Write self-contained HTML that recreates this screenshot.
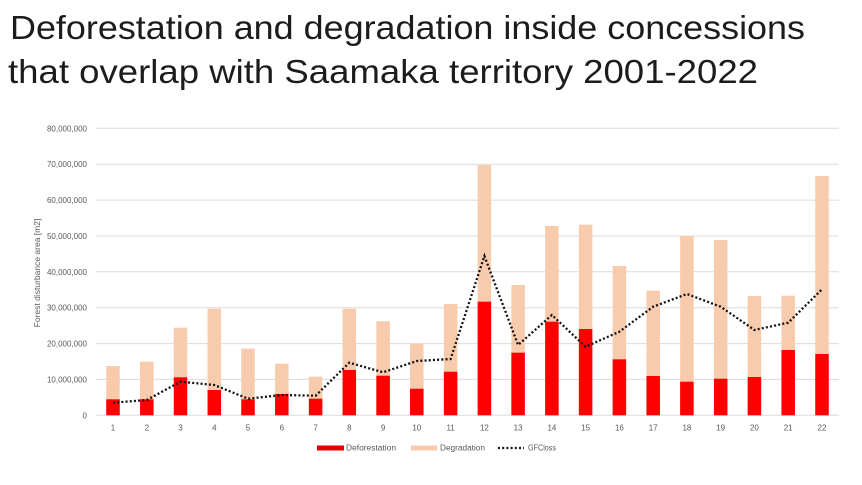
<!DOCTYPE html>
<html><head><meta charset="utf-8"><style>
html,body{margin:0;padding:0;background:#fff;}
svg{display:block;}
text{font-family:"Liberation Sans",sans-serif;}
</style></head><body>
<svg width="862" height="485" viewBox="0 0 862 485" xmlns="http://www.w3.org/2000/svg">
<rect width="862" height="485" fill="#fff"/>
<text x="10" y="39" font-size="33" fill="#1c1c1c" textLength="795" lengthAdjust="spacingAndGlyphs">Deforestation and degradation inside concessions</text>
<text x="8" y="83" font-size="33" fill="#1c1c1c" textLength="750" lengthAdjust="spacingAndGlyphs">that overlap with Saamaka territory 2001-2022</text>

<g stroke="#dcdcdc" stroke-width="1">
<line x1="96" x2="839" y1="128.3" y2="128.3"/>
<line x1="96" x2="839" y1="164.2" y2="164.2"/>
<line x1="96" x2="839" y1="200.1" y2="200.1"/>
<line x1="96" x2="839" y1="236" y2="236"/>
<line x1="96" x2="839" y1="271.8" y2="271.8"/>
<line x1="96" x2="839" y1="307.7" y2="307.7"/>
<line x1="96" x2="839" y1="343.6" y2="343.6"/>
<line x1="96" x2="839" y1="379.4" y2="379.4"/>
<line x1="96" x2="839" y1="415.3" y2="415.3"/>
</g>
<g font-size="8" fill="#595959" text-anchor="end">
<text x="87" y="131.3">80,000,000</text>
<text x="87" y="167.2">70,000,000</text>
<text x="87" y="203.1">60,000,000</text>
<text x="87" y="239">50,000,000</text>
<text x="87" y="274.8">40,000,000</text>
<text x="87" y="310.7">30,000,000</text>
<text x="87" y="346.6">20,000,000</text>
<text x="87" y="382.4">10,000,000</text>
<text x="87" y="418.3">0</text>
</g>
<text transform="translate(40,273) rotate(-90)" font-size="8.5" fill="#595959" text-anchor="middle">Forest disturbance area [m2]</text>

<g fill="#f8cbad">
<rect x="106.25" y="366" width="13.5" height="49.3"/>
<rect x="140.05" y="361.7" width="13.5" height="53.6"/>
<rect x="173.75" y="327.7" width="13.5" height="87.6"/>
<rect x="207.55" y="308.7" width="13.5" height="106.6"/>
<rect x="241.25" y="348.7" width="13.5" height="66.6"/>
<rect x="275.05" y="363.7" width="13.5" height="51.6"/>
<rect x="308.85" y="376.7" width="13.5" height="38.6"/>
<rect x="342.55" y="308.7" width="13.5" height="106.6"/>
<rect x="376.35" y="321.3" width="13.5" height="94"/>
<rect x="410.05" y="343.7" width="13.5" height="71.6"/>
<rect x="443.85" y="304" width="13.5" height="111.3"/>
<rect x="477.65" y="165" width="13.5" height="250.3"/>
<rect x="511.35" y="285" width="13.5" height="130.3"/>
<rect x="545.15" y="226" width="13.5" height="189.3"/>
<rect x="578.85" y="224.7" width="13.5" height="190.6"/>
<rect x="612.65" y="266" width="13.5" height="149.3"/>
<rect x="646.45" y="290.7" width="13.5" height="124.6"/>
<rect x="680.15" y="236" width="13.5" height="179.3"/>
<rect x="713.95" y="240" width="13.5" height="175.3"/>
<rect x="747.65" y="296" width="13.5" height="119.3"/>
<rect x="781.45" y="295.7" width="13.5" height="119.6"/>
<rect x="815.25" y="176" width="13.5" height="239.3"/>
</g>
<g fill="#ff0000">
<rect x="106.25" y="399.3" width="13.5" height="16"/>
<rect x="140.05" y="399.3" width="13.5" height="16"/>
<rect x="173.75" y="377.3" width="13.5" height="38"/>
<rect x="207.55" y="390" width="13.5" height="25.3"/>
<rect x="241.25" y="399.3" width="13.5" height="16"/>
<rect x="275.05" y="394" width="13.5" height="21.3"/>
<rect x="308.85" y="398.7" width="13.5" height="16.6"/>
<rect x="342.55" y="370" width="13.5" height="45.3"/>
<rect x="376.35" y="375.7" width="13.5" height="39.6"/>
<rect x="410.05" y="388.7" width="13.5" height="26.6"/>
<rect x="443.85" y="371.7" width="13.5" height="43.6"/>
<rect x="477.65" y="301.7" width="13.5" height="113.6"/>
<rect x="511.35" y="352.7" width="13.5" height="62.6"/>
<rect x="545.15" y="321.7" width="13.5" height="93.6"/>
<rect x="578.85" y="329" width="13.5" height="86.3"/>
<rect x="612.65" y="359.3" width="13.5" height="56"/>
<rect x="646.45" y="376" width="13.5" height="39.3"/>
<rect x="680.15" y="381.7" width="13.5" height="33.6"/>
<rect x="713.95" y="378.7" width="13.5" height="36.6"/>
<rect x="747.65" y="377" width="13.5" height="38.3"/>
<rect x="781.45" y="350" width="13.5" height="65.3"/>
<rect x="815.25" y="354" width="13.5" height="61.3"/>
</g>

<polyline fill="none" stroke="#111" stroke-width="2.3" stroke-dasharray="2 2.2"
points="113,402.7 146.8,400 180.5,381.7 214.3,385 248,398.7 281.8,395 315.6,395.7 349.3,362.7 383.1,372.3 416.8,361 450.6,359 484.4,256 518.1,345 551.9,315 585.6,346.7 619.4,331.7 653.2,306.7 686.9,294 720.7,306.7 754.4,330 788.2,322.7 822,289.3"/>

<g font-size="8" fill="#595959" text-anchor="middle">
<text x="113" y="430.5">1</text>
<text x="146.8" y="430.5">2</text>
<text x="180.5" y="430.5">3</text>
<text x="214.3" y="430.5">4</text>
<text x="248" y="430.5">5</text>
<text x="281.8" y="430.5">6</text>
<text x="315.6" y="430.5">7</text>
<text x="349.3" y="430.5">8</text>
<text x="383.1" y="430.5">9</text>
<text x="416.8" y="430.5">10</text>
<text x="450.6" y="430.5">11</text>
<text x="484.4" y="430.5">12</text>
<text x="518.1" y="430.5">13</text>
<text x="551.9" y="430.5">14</text>
<text x="585.6" y="430.5">15</text>
<text x="619.4" y="430.5">16</text>
<text x="653.2" y="430.5">17</text>
<text x="686.9" y="430.5">18</text>
<text x="720.7" y="430.5">19</text>
<text x="754.4" y="430.5">20</text>
<text x="788.2" y="430.5">21</text>
<text x="822" y="430.5">22</text>
</g>

<rect x="317" y="445.5" width="27" height="5" fill="#e00000"/>
<text x="346" y="450.7" font-size="8" fill="#595959" textLength="50" lengthAdjust="spacingAndGlyphs">Deforestation</text>
<rect x="411" y="445.5" width="26" height="5" fill="#f8cbad"/>
<text x="440" y="450.7" font-size="8" fill="#595959" textLength="45" lengthAdjust="spacingAndGlyphs">Degradation</text>
<line x1="498" y1="448" x2="524" y2="448" stroke="#111" stroke-width="2.2" stroke-dasharray="2 2.2"/>
<text x="528" y="450.7" font-size="8" fill="#595959" textLength="28" lengthAdjust="spacingAndGlyphs">GFCloss</text>
</svg>
</body></html>
